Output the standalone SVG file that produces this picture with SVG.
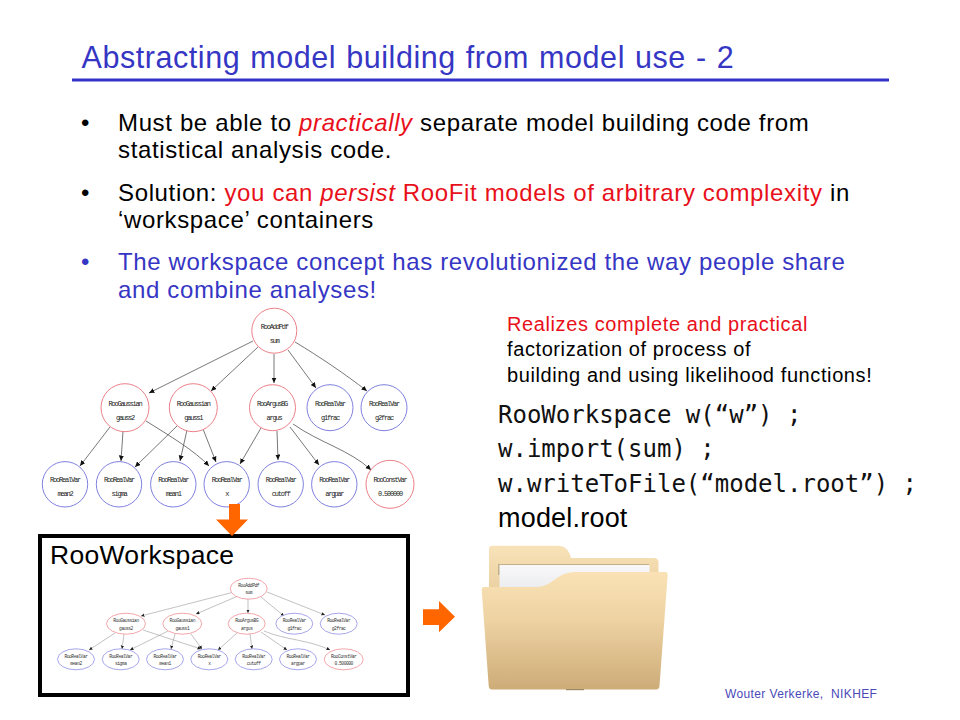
<svg xmlns="http://www.w3.org/2000/svg" width="960" height="720" viewBox="0 0 960 720">
<style>
text{font-family:"Liberation Sans",Arial,sans-serif;fill:#000}
.t{font-size:30.5px;letter-spacing:.56px;word-spacing:1px;fill:#3636c4}
.b{font-size:24px;letter-spacing:.64px}
.r{fill:#e8101a}
.bl{fill:#3636c4}
.s{font-size:20px;letter-spacing:.6px}
.c{font-family:"DejaVu Sans Mono","Liberation Mono",monospace;font-size:24px;fill:#111}
.n1{font-family:"Liberation Mono",monospace;font-size:7px;letter-spacing:-1.2px;text-anchor:middle;fill:#222}
.n2{font-family:"Liberation Mono",monospace;font-size:4.6px;letter-spacing:-.45px;text-anchor:middle;fill:#333}
.red{fill:#fff;stroke:#ec8088;stroke-width:1}
.blue{fill:#fff;stroke:#8080e0;stroke-width:1}
.w{stroke-width:.7}
.e1{fill:none;stroke:#555;stroke-width:.8;marker-end:url(#ah1)}
.e2{fill:none;stroke:#999;stroke-width:.6;marker-end:url(#ah2)}
.o{fill:#ff6600}
</style>
<defs>
<marker id="ah1" markerUnits="userSpaceOnUse" markerWidth="6" markerHeight="6" refX="5.5" refY="2.5" orient="auto"><path d="M0 0L5.5 2.5L0 5Z" fill="#111"/></marker>
<marker id="ah2" markerUnits="userSpaceOnUse" markerWidth="4" markerHeight="4" refX="3.5" refY="1.7" orient="auto"><path d="M0 0L3.5 1.7L0 3.4Z" fill="#222"/></marker>
<linearGradient id="fb" x1="0" y1="0" x2="0" y2="1"><stop offset="0" stop-color="#f8e2b8"/><stop offset="1" stop-color="#e8cd9c"/></linearGradient>
<linearGradient id="ff" x1="0" y1="0" x2="0" y2="1"><stop offset="0" stop-color="#fae2b6"/><stop offset=".4" stop-color="#eed3a3"/><stop offset="1" stop-color="#cdac78"/></linearGradient>
<linearGradient id="fp" x1="0" y1="0" x2="0" y2="1"><stop offset="0" stop-color="#f8f8fa"/><stop offset="1" stop-color="#e6e7ea"/></linearGradient>
</defs>
<rect width="960" height="720" fill="#fff"/>
<g id="title">
<text class="t" x="81.5" y="68">Abstracting model building from model use - 2</text>
<rect x="72" y="78.5" width="817" height="3" fill="#3333cc"/>
</g>
<g id="bullets">
<text class="b" x="81" y="130.7">•</text>
<text class="b" x="118" y="130.7">Must be able to <tspan class="r" font-style="italic">practically</tspan> separate model building code from</text>
<text class="b" x="118" y="158.3">statistical analysis code.</text>
<text class="b" x="81" y="200.7">•</text>
<text class="b" x="118" y="200.7">Solution: <tspan class="r">you can <tspan font-style="italic">persist</tspan> RooFit models of arbitrary complexity</tspan> in</text>
<text class="b" x="118" y="228.3">‘workspace’ containers</text>
<text class="b bl" x="81" y="269.5">•</text>
<text class="b bl" x="118" y="269.5">The workspace concept has revolutionized the way people share</text>
<text class="b bl" x="118" y="298">and combine analyses!</text>
</g>
<g id="connectors">
<path class="e1" d="M253 341L149 393"/>
<path class="e1" d="M258 347L211 391"/>
<path class="e1" d="M274 354V383"/>
<path class="e1" d="M288 350L316 388"/>
<path class="e1" d="M295 342C320 357 345 374 367 391"/>
<path class="e1" d="M110 427L80 466"/>
<path class="e1" d="M123 431L121 461"/>
<path class="e1" d="M146 421C170 436 195 451 209 466"/>
<path class="e1" d="M177 426L135 467"/>
<path class="e1" d="M187 430L180 461"/>
<path class="e1" d="M203 429L216 462"/>
<path class="e1" d="M261 428L240 464"/>
<path class="e1" d="M277 431L278 460"/>
<path class="e1" d="M290 427L319 465"/>
<path class="e1" d="M293 424C320 443 350 450 371 470"/>
<path class="e2" d="M234 592L141 616"/>
<path class="e2" d="M238 596L196 614"/>
<path class="e2" d="M248 599V613"/>
<path class="e2" d="M261 597L284 616"/>
<path class="e2" d="M267 592L325 615"/>
<path class="e2" d="M115 633L89 650"/>
<path class="e2" d="M124 634L122 649"/>
<path class="e2" d="M143 630L201 649"/>
<path class="e2" d="M168 631L130 650"/>
<path class="e2" d="M175 634L171 649"/>
<path class="e2" d="M191 634L202 649"/>
<path class="e2" d="M237 633L218 650"/>
<path class="e2" d="M250 634L252 649"/>
<path class="e2" d="M261 632L287 650"/>
<path class="e2" d="M264 631C285 640 310 640 330 650"/>
</g>
<g id="sum"><circle class="red" cx="274.3" cy="330.7" r="22.5"/><text class="n1" x="274.3" y="329">RooAddPdf</text><text class="n1" x="274.3" y="342.5">sum</text></g>
<g id="gauss2"><circle class="red" cx="125" cy="407.7" r="24"/><text class="n1" x="125" y="405.5">RooGaussian</text><text class="n1" x="125" y="419.5">gauss2</text></g>
<g id="gauss1"><circle class="red" cx="193.3" cy="407.7" r="24"/><text class="n1" x="193.3" y="405.5">RooGaussian</text><text class="n1" x="193.3" y="419.5">gauss1</text></g>
<g id="argus"><circle class="red" cx="272.5" cy="407.7" r="23"/><text class="n1" x="272" y="405.5">RooArgusBG</text><text class="n1" x="274" y="419.5">argus</text></g>
<g id="g1frac"><circle class="blue" cx="330" cy="407.7" r="23"/><text class="n1" x="330" y="405.5">RooRealVar</text><text class="n1" x="330" y="419.5">g1frac</text></g>
<g id="g2frac"><circle class="blue" cx="384" cy="407.7" r="23"/><text class="n1" x="384" y="405.5">RooRealVar</text><text class="n1" x="384" y="419.5">g2frac</text></g>
<g id="mean2"><circle class="blue" cx="65" cy="484.3" r="22.7"/><text class="n1" x="65" y="482">RooRealVar</text><text class="n1" x="65" y="496">mean2</text></g>
<g id="sigma"><circle class="blue" cx="119" cy="484.3" r="22.7"/><text class="n1" x="119" y="482">RooRealVar</text><text class="n1" x="119" y="496">sigma</text></g>
<g id="mean1"><circle class="blue" cx="173.3" cy="484.3" r="22.7"/><text class="n1" x="173.3" y="482">RooRealVar</text><text class="n1" x="173.3" y="496">mean1</text></g>
<g id="x"><circle class="blue" cx="226.7" cy="484.3" r="22.7"/><text class="n1" x="226.7" y="482">RooRealVar</text><text class="n1" x="226.7" y="496">x</text></g>
<g id="cutoff"><circle class="blue" cx="280.7" cy="484.3" r="22.7"/><text class="n1" x="280.7" y="482">RooRealVar</text><text class="n1" x="280.7" y="496">cutoff</text></g>
<g id="argpar"><circle class="blue" cx="334.3" cy="484.3" r="22.7"/><text class="n1" x="334.3" y="482">RooRealVar</text><text class="n1" x="334.3" y="496">argpar</text></g>
<g id="const"><circle class="red" cx="390" cy="484.3" r="24"/><text class="n1" x="390" y="482">RooConstVar</text><text class="n1" x="390" y="496">0.500000</text></g>
<g id="workspace">
<rect x="40" y="536" width="368" height="159" fill="none" stroke="#000" stroke-width="4"/>
<text x="50" y="564" font-size="26.5px" letter-spacing=".3px">RooWorkspace</text>
</g>
<g id="arrow-down"><path class="o" d="M229 504H240V519.5H248L232 536L216 519.5H229Z"/></g>
<g id="w-sum"><ellipse class="red w" cx="248.7" cy="588.7" rx="18.5" ry="10.5"/><text class="n2" x="248.7" y="587">RooAddPdf</text><text class="n2" x="248.7" y="594">sum</text></g>
<g id="w-gauss2"><ellipse class="red w" cx="126" cy="623.7" rx="19.5" ry="10.5"/><text class="n2" x="126" y="622">RooGaussian</text><text class="n2" x="126" y="629.5">gauss2</text></g>
<g id="w-gauss1"><ellipse class="red w" cx="182.3" cy="623.7" rx="19.5" ry="10.5"/><text class="n2" x="182.3" y="622">RooGaussian</text><text class="n2" x="182.3" y="629.5">gauss1</text></g>
<g id="w-argus"><ellipse class="red w" cx="246.7" cy="623.7" rx="18.5" ry="10.5"/><text class="n2" x="246.7" y="622">RooArgusBG</text><text class="n2" x="246.7" y="629.5">argus</text></g>
<g id="w-g1frac"><ellipse class="blue w" cx="294.3" cy="623.7" rx="18.5" ry="10.5"/><text class="n2" x="294.3" y="622">RooRealVar</text><text class="n2" x="294.3" y="629.5">g1frac</text></g>
<g id="w-g2frac"><ellipse class="blue w" cx="338.7" cy="623.7" rx="18.5" ry="10.5"/><text class="n2" x="338.7" y="622">RooRealVar</text><text class="n2" x="338.7" y="629.5">g2frac</text></g>
<g id="w-mean2"><ellipse class="blue w" cx="76" cy="659.3" rx="18.5" ry="10.5"/><text class="n2" x="76" y="657.5">RooRealVar</text><text class="n2" x="76" y="665">mean2</text></g>
<g id="w-sigma"><ellipse class="blue w" cx="120.7" cy="659.3" rx="18.5" ry="10.5"/><text class="n2" x="120.7" y="657.5">RooRealVar</text><text class="n2" x="120.7" y="665">sigma</text></g>
<g id="w-mean1"><ellipse class="blue w" cx="165" cy="659.3" rx="18.5" ry="10.5"/><text class="n2" x="165" y="657.5">RooRealVar</text><text class="n2" x="165" y="665">mean1</text></g>
<g id="w-x"><ellipse class="blue w" cx="209.3" cy="659.3" rx="18.5" ry="10.5"/><text class="n2" x="209.3" y="657.5">RooRealVar</text><text class="n2" x="209.3" y="665">x</text></g>
<g id="w-cutoff"><ellipse class="blue w" cx="253.7" cy="659.3" rx="18.5" ry="10.5"/><text class="n2" x="253.7" y="657.5">RooRealVar</text><text class="n2" x="253.7" y="665">cutoff</text></g>
<g id="w-argpar"><ellipse class="blue w" cx="298" cy="659.3" rx="18.5" ry="10.5"/><text class="n2" x="298" y="657.5">RooRealVar</text><text class="n2" x="298" y="665">argpar</text></g>
<g id="w-const"><ellipse class="red w" cx="343.7" cy="659.3" rx="19.5" ry="10.5"/><text class="n2" x="343.7" y="657.5">RooConstVar</text><text class="n2" x="343.7" y="665">0.500000</text></g>
<g id="arrow-right"><path class="o" d="M423 609.3H439V601L455 616.7L439 632.3V625H423Z"/></g>
<g id="folder">
<path fill="url(#fb)" d="M489 590V549Q489 545.7 492.5 545.7H558Q568 545.7 571 558H654Q658 558 658.5 562V600H489Z"/>
<path fill="#8a7a5c" opacity=".45" d="M498 564H649V572H658V575H498Z"/>
<path fill="url(#fp)" d="M499.5 565H649.5V600H499.5Z"/>
<path fill="url(#ff)" d="M484 587H537C552 587 557 572 575 572H665Q668 572 667.7 575L659.5 686Q659 689.5 656 689.5H492Q489 689.5 488.7 686L481.7 590Q481.7 587 484 587Z"/>
<rect x="566" y="689" width="18" height="1.2" fill="#9c8a66"/>
</g>
<g id="note">
<text class="s r" x="507" y="331">Realizes complete and practical</text>
<text class="s" x="507" y="356">factorization of process of</text>
<text class="s" x="507" y="381.5">building and using likelihood functions!</text>
</g>
<g id="code">
<text class="c" x="498" y="423.3">RooWorkspace w(“w”) ;</text>
<text class="c" x="498" y="457">w.import(sum) ;</text>
<text class="c" x="498" y="492.3">w.writeToFile(“model.root”) ;</text>
<text x="498" y="527" font-size="27px" letter-spacing=".2px">model.root</text>
</g>
<text id="footer" x="725" y="698" font-size="12px" letter-spacing=".38px" style="fill:#4a4ab8">Wouter Verkerke,&#160; NIKHEF</text>
</svg>
